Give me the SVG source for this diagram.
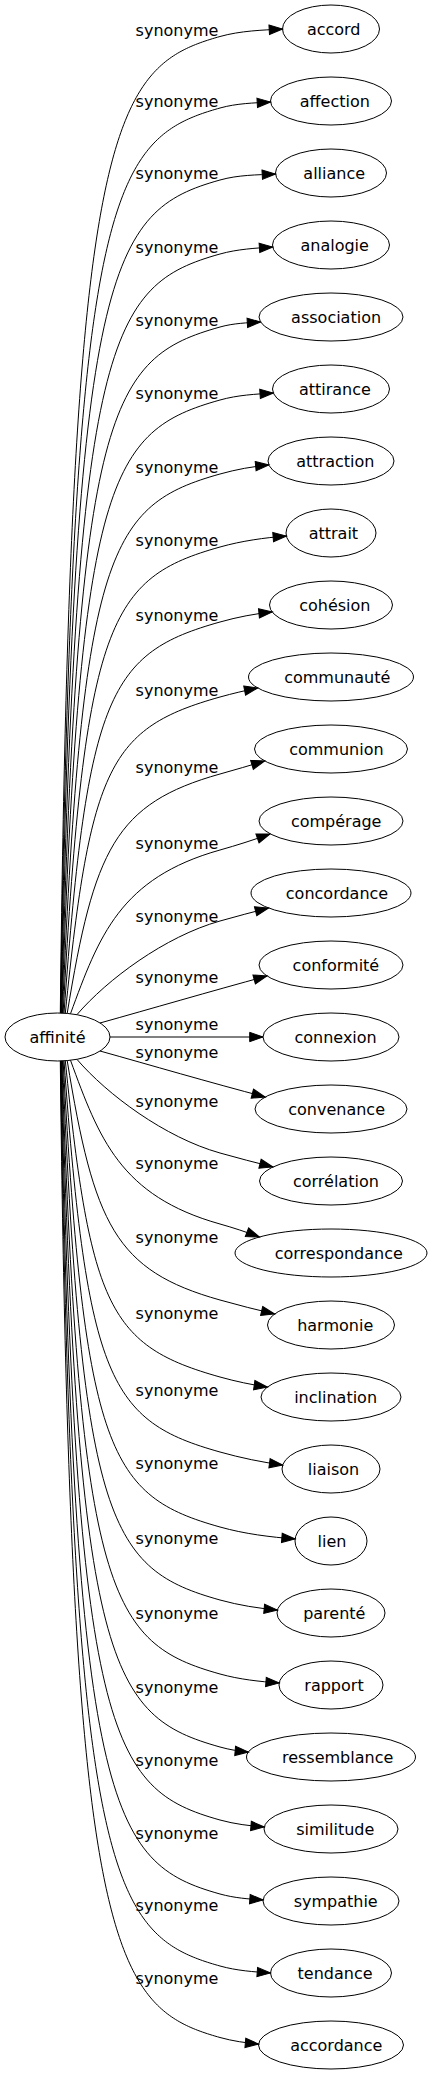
<svg xmlns="http://www.w3.org/2000/svg" width="432" height="2075" viewBox="0 0 432 2075">
<style>
text{font-family:"DejaVu Sans",Verdana,sans-serif;font-size:16px;fill:#000;text-anchor:middle}
.node ellipse{fill:none;stroke:#000;stroke-width:1}
#edges path{fill:none;stroke:#000;stroke-width:1;marker-end:url(#arr)}
</style>
<defs>
<marker id="arr" markerWidth="14" markerHeight="10" refX="13.3" refY="4.67" orient="auto" markerUnits="userSpaceOnUse" overflow="visible"><path d="M0,0L13.3,4.67L0,9.33z" fill="#000" stroke="#000" stroke-width="1"/></marker>
</defs>
<rect width="432" height="2075" fill="#fff"/>
<g id="edges">
<g id="e-accord"><path d="M60.3,1013 C70.4,123.4 110,67.3 220,36.5 C240.8,30.7 261.7,30.2 282.5,29"/><text x="177" y="35.5">synonyme</text></g>
<g id="e-affection"><path d="M60.5,1013 C72.2,193 110,138.8 220,108 C236.8,103.3 253.7,103 270.5,102"/><text x="177" y="107">synonyme</text></g>
<g id="e-alliance"><path d="M60.7,1013.1 C74,263 110,210.8 220,180 C238.5,174.8 257,175 275.5,174"/><text x="177" y="179">synonyme</text></g>
<g id="e-analogie"><path d="M61,1013.1 C76,334.9 110,284.8 220,254 C237.6,249.1 255.1,248.2 272.7,247"/><text x="177" y="253">synonyme</text></g>
<g id="e-association"><path d="M61.4,1013.1 C78.1,405.9 110,357.8 220,327 C233.5,323.2 247.1,322.8 260.6,322"/><text x="177" y="326">synonyme</text></g>
<g id="e-attirance"><path d="M61.8,1013.1 C80.1,476.9 110,430.8 220,400 C237.8,395 255.5,394.2 273.3,393"/><text x="177" y="399">synonyme</text></g>
<g id="e-attraction"><path d="M62.4,1013.1 C82.4,548.9 110,504.8 220,474 C236.3,469.4 252.6,466.5 268.9,465"/><text x="177" y="473">synonyme</text></g>
<g id="e-attrait"><path d="M63.1,1013.1 C84.7,619.8 110,577.8 220,547 C242.1,540.8 264.3,537.8 286.4,536"/><text x="177" y="546">synonyme</text></g>
<g id="e-cohesion"><path d="M64,1013.2 C87.3,692.8 110,652.8 220,622 C237.4,617.1 254.8,613.7 272.2,612"/><text x="177" y="621">synonyme</text></g>
<g id="e-communaute"><path d="M65.3,1013.3 C90.3,765.7 110,727.8 220,697 C232.6,693.5 245.1,690.5 257.7,688"/><text x="177" y="696">synonyme</text></g>
<g id="e-communion"><path d="M67.2,1013.4 C94,849.5 115,803.4 220,774 C234.9,769.8 249.8,765.5 264.7,761"/><text x="177" y="773">synonyme</text></g>
<g id="e-comperage"><path d="M70.5,1013.7 C99,936 120,878 220,850 C236.7,845.3 253.3,840 270,834"/><text x="177" y="849">synonyme</text></g>
<g id="e-concordance"><path d="M76.9,1014.7 C106.9,979.7 165,936.4 220,921 C236.2,916.5 252.3,912.1 268.5,908"/><text x="177" y="922">synonyme</text></g>
<g id="e-conformite"><path d="M100,1023 C150,1009 210,991.5 267,976"/><text x="177" y="983">synonyme</text></g>
<g id="e-connexion"><path d="M110,1037 L263,1037"/><text x="177" y="1030">synonyme</text></g>
<g id="e-convenance"><path d="M100,1051 C150,1065 210,1082.5 265.2,1097"/><text x="177" y="1058">synonyme</text></g>
<g id="e-correlation"><path d="M76.9,1059.3 C106.9,1094.3 165,1137.6 220,1153 C237.6,1157.9 255.3,1162.6 272.9,1167"/><text x="177" y="1107">synonyme</text></g>
<g id="e-correspondance"><path d="M70.5,1060.3 C99,1138 120,1196 220,1224 C233.1,1227.7 246.3,1232 259.4,1237"/><text x="177" y="1169">synonyme</text></g>
<g id="e-harmonie"><path d="M67.2,1060.6 C94,1224.5 115,1270.6 220,1300 C238.2,1305.1 256.4,1309.8 274.6,1314"/><text x="177" y="1243">synonyme</text></g>
<g id="e-inclination"><path d="M65.3,1060.7 C90.3,1308.3 110,1346.2 220,1377 C235.8,1381.4 251.6,1384.8 267.4,1387"/><text x="177" y="1319">synonyme</text></g>
<g id="e-liaison"><path d="M64,1060.8 C87.3,1381.2 110,1421.2 220,1452 C240.9,1457.9 261.8,1462.2 282.7,1465"/><text x="177" y="1396">synonyme</text></g>
<g id="e-lien"><path d="M63.1,1060.9 C84.7,1454.2 110,1496.2 220,1527 C245,1534 270.1,1537 295.1,1539"/><text x="177" y="1469">synonyme</text></g>
<g id="e-parente"><path d="M62.4,1060.9 C82.4,1525.1 110,1569.2 220,1600 C239.1,1605.3 258.3,1608.3 277.4,1610"/><text x="177" y="1544">synonyme</text></g>
<g id="e-rapport"><path d="M61.8,1060.9 C80.1,1597.1 110,1643.2 220,1674 C239.7,1679.5 259.5,1681.5 279.2,1683"/><text x="177" y="1619">synonyme</text></g>
<g id="e-ressemblance"><path d="M61.4,1060.9 C78.1,1668.1 110,1716.2 220,1747 C229.5,1749.7 238.9,1751.2 248.4,1752"/><text x="177" y="1693">synonyme</text></g>
<g id="e-similitude"><path d="M61,1060.9 C76,1739.1 110,1789.2 220,1820 C234.7,1824.1 249.5,1825.8 264.2,1827"/><text x="177" y="1766">synonyme</text></g>
<g id="e-sympathie"><path d="M60.7,1060.9 C74,1811 110,1863.2 220,1894 C234.4,1898 248.7,1899 263.1,1900"/><text x="177" y="1839">synonyme</text></g>
<g id="e-tendance"><path d="M60.5,1061 C72.2,1881 110,1935.2 220,1966 C236.8,1970.7 253.7,1971.8 270.5,1973"/><text x="177" y="1911">synonyme</text></g>
<g id="e-accordance"><path d="M60.3,1061 C70.4,1950.6 110,2006.7 220,2037.5 C232.9,2041.1 245.7,2042.9 258.6,2044"/><text x="177" y="1984">synonyme</text></g>
</g>
<g id="n-affinite" class="node"><ellipse cx="57.5" cy="1037" rx="52.5" ry="24"/><text x="57.5" y="1043">affinité</text></g>
<g id="n-accord" class="node"><ellipse cx="331" cy="29" rx="48.5" ry="24"/><text x="333.7" y="35">accord</text></g>
<g id="n-affection" class="node"><ellipse cx="331" cy="101" rx="60.5" ry="24"/><text x="334.8" y="107">affection</text></g>
<g id="n-alliance" class="node"><ellipse cx="331" cy="173" rx="55.5" ry="24"/><text x="334.2" y="179">alliance</text></g>
<g id="n-analogie" class="node"><ellipse cx="331" cy="245" rx="58.5" ry="24"/><text x="334.7" y="251">analogie</text></g>
<g id="n-association" class="node"><ellipse cx="331" cy="317" rx="72" ry="24"/><text x="336.1" y="323">association</text></g>
<g id="n-attirance" class="node"><ellipse cx="331" cy="389" rx="58.5" ry="24"/><text x="334.9" y="395">attirance</text></g>
<g id="n-attraction" class="node"><ellipse cx="331" cy="461" rx="63" ry="24"/><text x="335.3" y="467">attraction</text></g>
<g id="n-attrait" class="node"><ellipse cx="331" cy="533" rx="45" ry="24"/><text x="333.4" y="539">attrait</text></g>
<g id="n-cohesion" class="node"><ellipse cx="331" cy="605" rx="61.5" ry="24"/><text x="334.8" y="611">cohésion</text></g>
<g id="n-communaute" class="node"><ellipse cx="331" cy="677" rx="82.5" ry="24"/><text x="337.2" y="683">communauté</text></g>
<g id="n-communion" class="node"><ellipse cx="331" cy="749" rx="76.5" ry="24"/><text x="336.4" y="755">communion</text></g>
<g id="n-comperage" class="node"><ellipse cx="331" cy="821" rx="72" ry="24"/><text x="336.2" y="827">compérage</text></g>
<g id="n-concordance" class="node"><ellipse cx="331" cy="893" rx="80" ry="24"/><text x="337" y="899">concordance</text></g>
<g id="n-conformite" class="node"><ellipse cx="331" cy="965" rx="72" ry="24"/><text x="335.9" y="971">conformité</text></g>
<g id="n-connexion" class="node"><ellipse cx="331" cy="1037" rx="68" ry="24"/><text x="335.6" y="1043">connexion</text></g>
<g id="n-convenance" class="node"><ellipse cx="331" cy="1109" rx="76" ry="24"/><text x="336.6" y="1115">convenance</text></g>
<g id="n-correlation" class="node"><ellipse cx="331" cy="1181" rx="71.5" ry="24"/><text x="335.9" y="1187">corrélation</text></g>
<g id="n-correspondance" class="node"><ellipse cx="331" cy="1253" rx="96" ry="24"/><text x="338.8" y="1259">correspondance</text></g>
<g id="n-harmonie" class="node"><ellipse cx="331" cy="1325" rx="63.5" ry="24"/><text x="335.2" y="1331">harmonie</text></g>
<g id="n-inclination" class="node"><ellipse cx="331" cy="1397" rx="70" ry="24"/><text x="335.6" y="1403">inclination</text></g>
<g id="n-liaison" class="node"><ellipse cx="331" cy="1469" rx="49" ry="24"/><text x="333.5" y="1475">liaison</text></g>
<g id="n-lien" class="node"><ellipse cx="331" cy="1541" rx="36" ry="24"/><text x="332" y="1547">lien</text></g>
<g id="n-parente" class="node"><ellipse cx="331" cy="1613" rx="54" ry="24"/><text x="334.3" y="1619">parenté</text></g>
<g id="n-rapport" class="node"><ellipse cx="331" cy="1685" rx="52" ry="24"/><text x="334" y="1691">rapport</text></g>
<g id="n-ressemblance" class="node"><ellipse cx="331" cy="1757" rx="84.5" ry="24"/><text x="337.6" y="1763">ressemblance</text></g>
<g id="n-similitude" class="node"><ellipse cx="331" cy="1829" rx="67" ry="24"/><text x="335.3" y="1835">similitude</text></g>
<g id="n-sympathie" class="node"><ellipse cx="331" cy="1901" rx="68" ry="24"/><text x="335.7" y="1907">sympathie</text></g>
<g id="n-tendance" class="node"><ellipse cx="331" cy="1973" rx="60.5" ry="24"/><text x="335.1" y="1979">tendance</text></g>
<g id="n-accordance" class="node"><ellipse cx="331" cy="2045" rx="72.5" ry="24"/><text x="336.3" y="2051">accordance</text></g>
</svg>
